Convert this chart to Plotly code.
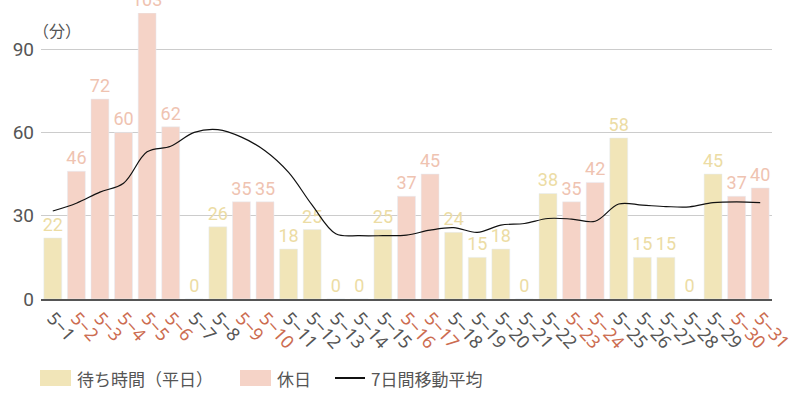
import plotly.graph_objects as go

dates = [f"5-{d}" for d in range(1, 32)]
values = [22, 46, 72, 60, 103, 62, 0, 26, 35, 35, 18, 25, 0, 0, 25, 37, 45,
          24, 15, 18, 0, 38, 35, 42, 58, 15, 15, 0, 45, 37, 40]
holidays = ["5-2", "5-3", "5-4", "5-5", "5-6", "5-9", "5-10", "5-16", "5-17",
            "5-23", "5-24", "5-30", "5-31"]
moving_avg = [31.7, 34.5, 38.5, 41.7, 53.0, 55.0, 60.0, 61.0, 58.3, 53.4,
              45.6, 33.8, 23.5, 22.8, 22.8, 23.0, 24.8, 25.7, 24.0, 26.6,
              27.2, 29.0, 28.8, 28.0, 34.2, 33.8, 33.3, 33.2, 34.7, 35.0, 34.7]
legend_names = ["待ち時間（平日）", "休日", "7日間移動平均"]

WEEKDAY_BAR = "#f1e5b8"
WEEKDAY_TXT = "#ecdca4"
HOLIDAY_BAR = "#f5d3c7"
HOLIDAY_TXT = "#efc3b1"
HOLI_TICK = "#cc6c50"
GRAY = "#555555"

W, H = 800, 400
ML, MR, MT, MB = 41, 28, 13, 101
PW, PH = W - ML - MR, H - MT - MB


def px(x):
    return (x - ML) / PW


def py(y):
    return (H - MB - y) / PH


wd_x = [d for d in dates if d not in holidays]
wd_y = [v for d, v in zip(dates, values) if d not in holidays]
ho_x = [d for d in dates if d in holidays]
ho_y = [v for d, v in zip(dates, values) if d in holidays]

label_font = dict(family="Roboto, sans-serif", size=18)

fig = go.Figure()
fig.add_trace(go.Bar(
    x=wd_x, y=wd_y, name=legend_names[0],
    marker=dict(color=WEEKDAY_BAR),
    text=[str(v) for v in wd_y], textposition="outside",
    textfont=dict(color=WEEKDAY_TXT, **label_font),
    cliponaxis=False, constraintext="none", width=0.76,
))
fig.add_trace(go.Bar(
    x=ho_x, y=ho_y, name=legend_names[1],
    marker=dict(color=HOLIDAY_BAR),
    text=[str(v) for v in ho_y], textposition="outside",
    textfont=dict(color=HOLIDAY_TXT, **label_font),
    cliponaxis=False, constraintext="none", width=0.76,
))
fig.add_trace(go.Scatter(
    x=dates, y=moving_avg, mode="lines", name=legend_names[2],
    line=dict(color="#111111", width=1.2, shape="spline"),
))

ticktext = [
    f'<span style="color:{HOLI_TICK}">{d.replace("-", "−")}</span>' if d in holidays
    else d.replace("-", "−")
    for d in dates
]

legend_font = dict(size=17, color=GRAY, family="Noto Sans CJK JP, Noto Sans, sans-serif")
shapes = [
    dict(type="rect", xref="paper", yref="paper", x0=px(40), x1=px(71), y0=py(386), y1=py(370),
         fillcolor=WEEKDAY_BAR, line=dict(width=0)),
    dict(type="rect", xref="paper", yref="paper", x0=px(240), x1=px(271), y0=py(386), y1=py(370),
         fillcolor=HOLIDAY_BAR, line=dict(width=0)),
    dict(type="line", xref="paper", yref="paper", x0=px(335), x1=px(365), y0=py(378), y1=py(378),
         line=dict(color="#111111", width=2)),
]
annotations = [
    dict(x=px(75), y=py(378), xref="paper", yref="paper", xanchor="left", yanchor="middle",
         text=legend_names[0], showarrow=False, font=legend_font),
    dict(x=px(275), y=py(378), xref="paper", yref="paper", xanchor="left", yanchor="middle",
         text=legend_names[1], showarrow=False, font=legend_font),
    dict(x=px(369), y=py(378), xref="paper", yref="paper", xanchor="left", yanchor="middle",
         text=legend_names[2], showarrow=False, font=legend_font),
    dict(x=0, y=90, xref="paper", yref="y", xanchor="left", yanchor="bottom",
         text="（分）", showarrow=False, yshift=5, xshift=-10,
         font=dict(size=16, color=GRAY, family="Noto Sans CJK JP, sans-serif")),
]

fig.update_layout(
    width=W, height=H,
    margin=dict(l=ML, r=MR, t=MT, b=MB),
    paper_bgcolor="white", plot_bgcolor="white",
    barmode="overlay",
    font=dict(family="Noto Sans, Roboto, sans-serif", color=GRAY),
    showlegend=False,
    xaxis=dict(
        type="category", categoryorder="array", categoryarray=dates,
        tickmode="array", tickvals=dates, ticktext=ticktext,
        tickangle=48, tickfont=dict(size=18, color=GRAY),
        showline=True, linecolor="#555555", linewidth=1.5,
        showgrid=False, ticks="", range=[-0.5, 30.5], automargin=False,
    ),
    yaxis=dict(
        range=[0, 103], tickvals=[0, 30, 60, 90],
        tickfont=dict(size=19, color=GRAY, family="Roboto, sans-serif"),
        showgrid=True, gridcolor="#cccccc", gridwidth=1,
        zeroline=False, ticks="", ticklabelstandoff=6, automargin=False,
    ),
    shapes=shapes,
    annotations=annotations,
)

fig.write_html("out.html")
